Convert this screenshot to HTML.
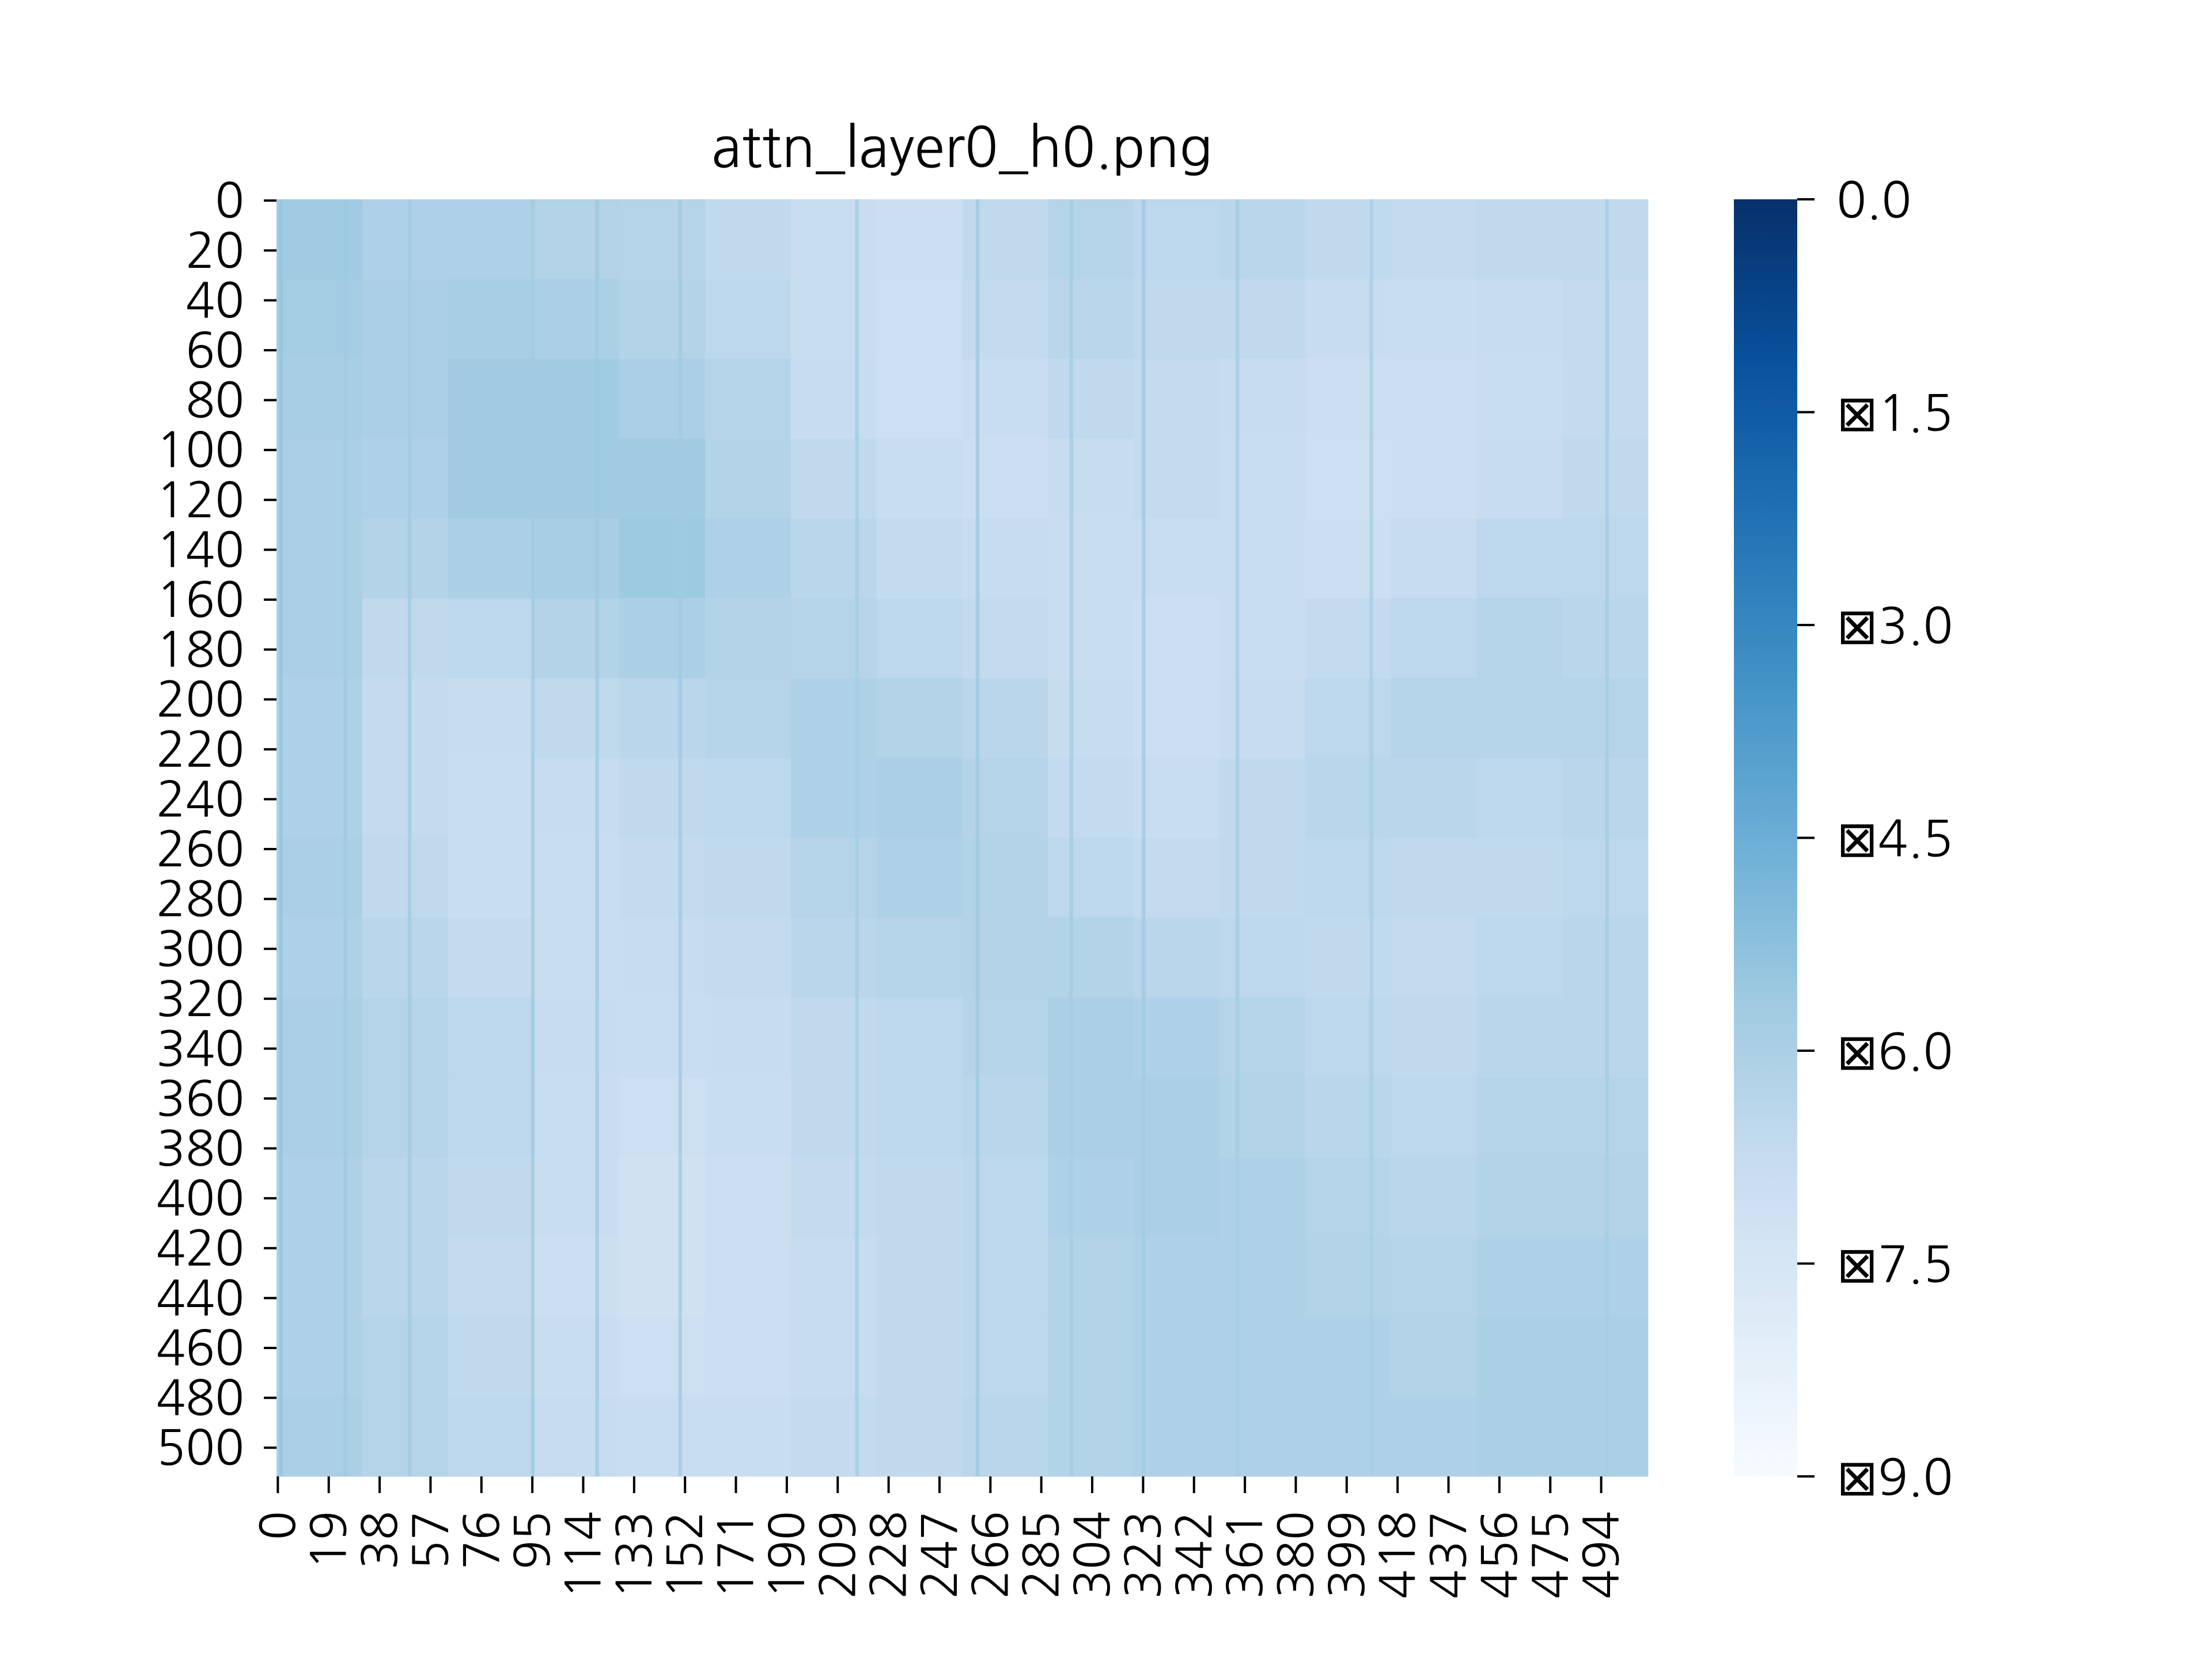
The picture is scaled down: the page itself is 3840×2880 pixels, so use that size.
<!DOCTYPE html>
<html><head><meta charset="utf-8"><style>
html,body{margin:0;padding:0;background:#fff}
svg{display:block}
text{font-family:"NanumGothic","Liberation Sans","DejaVu Sans",sans-serif;fill:#000}
</style></head><body>
<svg id="chart" width="3840" height="2880" viewBox="0 0 3840 2880" xmlns="http://www.w3.org/2000/svg">
<defs>
<linearGradient id="cbgrad" x1="0" y1="0" x2="0" y2="1">
<stop offset="0" stop-color="#08306b"/><stop offset="0.125" stop-color="#08519c"/><stop offset="0.25" stop-color="#2171b5"/><stop offset="0.375" stop-color="#4292c6"/><stop offset="0.5" stop-color="#6baed6"/><stop offset="0.625" stop-color="#9ecae1"/><stop offset="0.75" stop-color="#c6dbef"/><stop offset="0.875" stop-color="#deebf7"/><stop offset="1" stop-color="#f7fbff"/>
</linearGradient>
</defs>
<text x="1670" y="290" font-size="96" text-anchor="middle">attn_layer0_h0.png</text>
<g id="cells"></g>
<g id="stripes"></g>
<g id="yaxis"></g>
<g id="xaxis"></g>
<rect x="3010" y="346" width="110" height="2217" fill="url(#cbgrad)"/>
<g id="cbaxis"></g>
</svg>
<script>
const nRows = 512;
const nCols = 512;
const blockRows = [
[-5.7,-6.1,-6.1,-6.2,-6.3,-6.6,-6.9,-7.0,-6.6,-6.3,-6.5,-6.4,-6.6,-6.7,-6.6,-6.6],
[-5.8,-6.0,-5.9,-6.0,-6.2,-6.5,-6.9,-7.1,-6.7,-6.4,-6.6,-6.6,-6.8,-6.9,-6.8,-6.7],
[-5.9,-6.0,-5.7,-5.7,-6.0,-6.3,-6.8,-7.1,-6.9,-6.6,-6.7,-6.8,-7.0,-7.0,-6.9,-6.7],
[-6.0,-6.1,-5.7,-5.7,-5.7,-6.2,-6.6,-6.9,-7.0,-6.8,-6.7,-6.9,-7.1,-7.0,-6.8,-6.6],
[-6.0,-6.2,-6.0,-5.9,-5.6,-6.1,-6.4,-6.7,-6.8,-6.9,-6.9,-6.9,-7.0,-6.8,-6.5,-6.5],
[-6.0,-6.6,-6.5,-6.2,-6.0,-6.2,-6.3,-6.5,-6.7,-6.9,-7.0,-6.9,-6.7,-6.5,-6.3,-6.4],
[-6.1,-6.7,-6.8,-6.6,-6.4,-6.3,-6.1,-6.2,-6.4,-6.8,-7.0,-6.8,-6.5,-6.3,-6.3,-6.3],
[-6.1,-6.7,-6.9,-6.8,-6.6,-6.5,-6.1,-6.0,-6.3,-6.7,-6.9,-6.6,-6.4,-6.4,-6.5,-6.4],
[-6.0,-6.6,-6.9,-6.9,-6.7,-6.6,-6.3,-6.1,-6.2,-6.5,-6.7,-6.6,-6.5,-6.6,-6.6,-6.5],
[-6.1,-6.4,-6.7,-6.9,-6.8,-6.7,-6.4,-6.3,-6.2,-6.2,-6.4,-6.5,-6.6,-6.7,-6.5,-6.4],
[-6.0,-6.3,-6.5,-6.8,-6.9,-6.8,-6.6,-6.5,-6.3,-6.0,-6.1,-6.3,-6.5,-6.6,-6.4,-6.4],
[-6.0,-6.3,-6.5,-6.9,-7.1,-6.9,-6.6,-6.5,-6.4,-6.0,-6.0,-6.2,-6.4,-6.5,-6.3,-6.3],
[-6.1,-6.4,-6.6,-6.9,-7.2,-7.0,-6.7,-6.6,-6.5,-6.1,-6.0,-6.1,-6.3,-6.4,-6.2,-6.2],
[-6.1,-6.4,-6.7,-7.0,-7.2,-7.0,-6.8,-6.6,-6.5,-6.2,-6.1,-6.1,-6.2,-6.3,-6.1,-6.1],
[-6.1,-6.3,-6.6,-6.9,-7.1,-7.0,-6.8,-6.6,-6.5,-6.2,-6.1,-6.1,-6.1,-6.2,-6.0,-6.0],
[-6.0,-6.3,-6.5,-6.8,-6.9,-6.9,-6.7,-6.6,-6.4,-6.2,-6.1,-6.1,-6.1,-6.1,-6.0,-6.0]
];
const stripeCols = [1,25,49,95,119,150,216,261,296,323,358,408,496];
const stripeVals = [-5.4,-5.6,-5.7,-5.7,-5.6,-5.7,-5.8,-5.6,-5.8,-5.7,-5.8,-5.9,-5.8];
const yTicks = [0,20,40,60,80,100,120,140,160,180,200,220,240,260,280,300,320,340,360,380,400,420,440,460,480,500];
const xTicks = [0,19,38,57,76,95,114,133,152,171,190,209,228,247,266,285,304,323,342,361,380,399,418,437,456,475,494];
const cbTicks = [0,-1.5,-3,-4.5,-6,-7.5,-9];
const cbLabels = ["0.0","⊠1.5","⊠3.0","⊠4.5","⊠6.0","⊠7.5","⊠9.0"];
const vMin = -9, vMax = 0;

const L=480,T=346,W=2381,H=2217;
const NS="http://www.w3.org/2000/svg";
const cw=W/nCols, ch=H/nRows;
function xPos(c){return L+c*cw;}
function yPos(r){return T+r*ch;}
function cbY(v){return T+(vMax-v)/(vMax-vMin)*H;}
const stops=[[0,[247,251,255]],[0.125,[222,235,247]],[0.25,[198,219,239]],[0.375,[158,202,225]],[0.5,[107,174,214]],[0.625,[66,146,198]],[0.75,[33,113,181]],[0.875,[8,81,156]],[1,[8,48,107]]];
function color(v){
  let t=(v-vMin)/(vMax-vMin); t=Math.max(0,Math.min(1,t));
  for(let i=1;i<stops.length;i++){
    if(t<=stops[i][0]){const a=stops[i-1],b=stops[i];const f=(t-a[0])/(b[0]-a[0]);
      const c=a[1].map((x,k)=>Math.round(x+(b[1][k]-x)*f));return `rgb(${c[0]},${c[1]},${c[2]})`;}
  }
  return "rgb(8,48,107)";
}
function mk(tag,attrs,parent){const e=document.createElementNS(NS,tag);for(const k in attrs)e.setAttribute(k,attrs[k]);parent.appendChild(e);return e;}

const cells=document.getElementById('cells');
const nb=blockRows.length, bs=nRows/nb;
blockRows.forEach((row,ri)=>{
  row.forEach((v,ci)=>{
    const r=mk('rect',{x:xPos(ci*bs),y:yPos(ri*bs),width:cw*bs+0.5,height:ch*bs+0.5,fill:color(v)},cells);
    
    
  });
});
const stripes=document.getElementById('stripes');
stripeCols.forEach((c,i)=>{
  const r=mk('rect',{x:xPos(c),y:T,width:cw*1.4,height:H,fill:color(stripeVals[i]),opacity:0.8},stripes);
  
  
});
const ya=document.getElementById('yaxis');
yTicks.forEach(v=>{
  const y=yPos(v+0.5);
  const t=mk('rect',{x:L-22,y:y-2,width:22,height:4,fill:'#000'},ya);
  
  
  const lb=mk('text',{x:L-56,y:y+30,'font-size':84,'text-anchor':'end'},ya);
  lb.textContent=v;
  
  
});
const xa=document.getElementById('xaxis');
xTicks.forEach(v=>{
  const x=xPos(v+0.5);
  const t=mk('rect',{x:x-2,y:T+H,width:4,height:29,fill:'#000'},xa);
  
  
  const lb=mk('text',{x:0,y:0,'font-size':84,'text-anchor':'end',transform:`translate(${x+30},${T+H+60}) rotate(-90)`},xa);
  lb.textContent=v;
  
  
});
const cba=document.getElementById('cbaxis');
cbTicks.forEach((v,i)=>{
  const y=cbY(v);
  const t=mk('rect',{x:3120,y:y-2,width:30,height:4,fill:'#000'},cba);
  
  
  const lb=mk('text',{x:3188,y:y+32,'font-size':86},cba);
  lb.textContent=cbLabels[i];
  
  
});
</script>
</body></html>
